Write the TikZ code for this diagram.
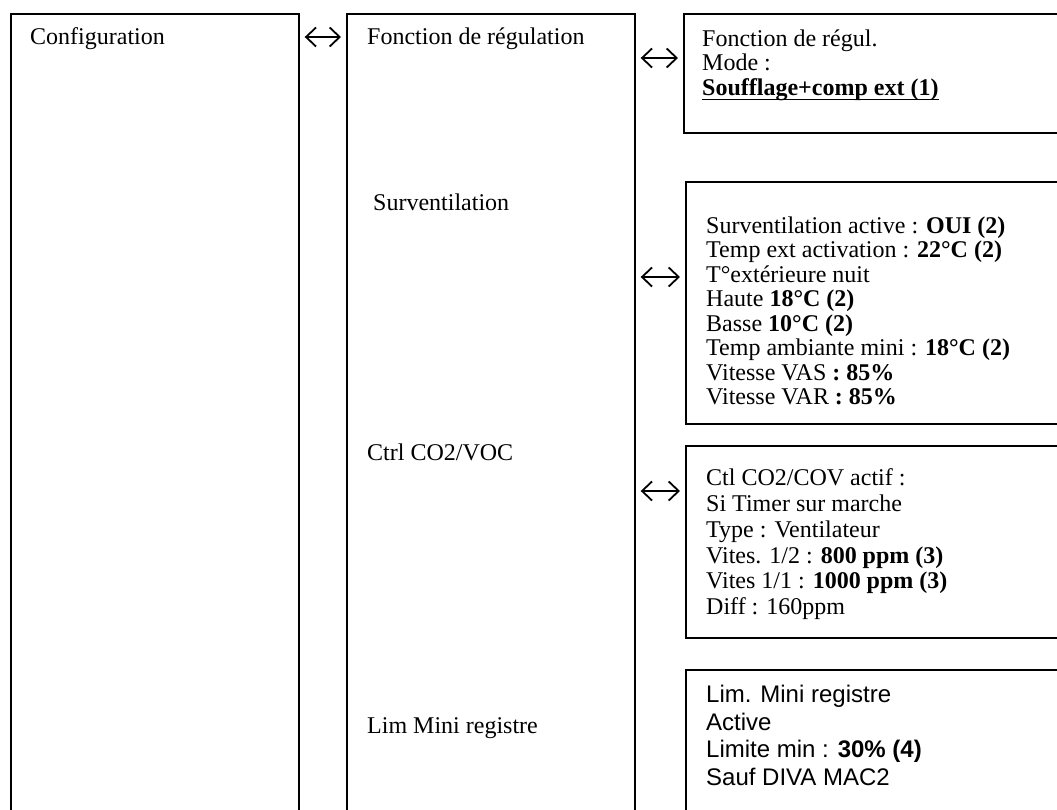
\documentclass[tikz,border=0pt]{standalone}
\usepackage{fontspec}
\setmainfont{Liberation Serif}
\newfontfamily\arialfont{Liberation Sans}
\usetikzlibrary{arrows.meta}
\newcommand\ulbox[1]{\setbox0\hbox{#1}\rlap{\rule[-4.5pt]{\wd0}{1.2pt}}\box0}
\begin{document}
\begin{tikzpicture}[x=1pt,y=-1pt,
  box/.style={draw, line width=1.7pt, anchor=north west, inner sep=0pt},
  lbl/.style={anchor=base west, inner sep=0pt, font=\fontsize{24}{24.6}\selectfont},
  txt/.style={anchor=north west, inner sep=0pt, align=left},
  link/.style={line width=1.8pt, shorten <=5pt, shorten >=5pt,
    {Straight Barb[length=10pt,width=19pt,line width=1.8pt]}-{Straight Barb[length=10pt,width=19pt,line width=1.8pt]}}]
\useasboundingbox (0,0) rectangle (1057,810);
\clip (0,0) rectangle (1057,810);
\fill[white] (0,0) rectangle (1057,810);

% boxes
\node[box, minimum width=288pt, minimum height=830pt] (conf) at (10,13) {};
\node[box, minimum width=288pt, minimum height=830pt] (func) at (346,13) {};
\node[box, minimum width=420pt, minimum height=119pt] (r1) at (683,13) {};
\node[box, minimum width=420pt, minimum height=242pt] (r2) at (685,181) {};
\node[box, minimum width=420pt, minimum height=192pt] (r3) at (685,445) {};
\node[box, minimum width=420pt, minimum height=220pt] (r4) at (685,669) {};

% left and middle labels
\node[lbl] (tconf) at (30,45) {Configuration};
\node[lbl] (tfunc) at (367,45) {Fonction de régulation};
\node[lbl] (tsurv) at (373,211) {Surventilation};
\node[lbl] (tco2) at (367,460) {Ctrl CO2/VOC};
\node[lbl] (tlim) at (367,733) {Lim Mini registre};

% right texts
\node[txt, font=\fontsize{24}{24.7}\selectfont] (t1) at (702,29.3)
  {Fonction de régul.\\Mode :\\\textbf{\ulbox{Soufflage+comp ext (1)}}};
\node[txt, font=\fontsize{24}{24.5}\selectfont] (t2) at (706,216.3)
  {Surventilation active : \textbf{OUI (2)}\\
   Temp ext activation : \textbf{22°C (2)}\\
   T°extérieure nuit\\
   Haute \textbf{18°C (2)}\\
   Basse \textbf{10°C (2)}\\
   Temp ambiante mini : \textbf{18°C (2)}\\
   Vitesse VAS \textbf{: 85\%}\\
   Vitesse VAR \textbf{: 85\%}};
\node[txt, font=\fontsize{24}{25.8}\selectfont] (t3) at (706,468.6)
  {Ctl CO2/COV actif :\\
   Si Timer sur marche\\
   Type : Ventilateur\\
   Vites. 1/2 : \textbf{800 ppm (3)}\\
   Vites 1/1 : \textbf{1000 ppm (3)}\\
   Diff : 160ppm};
\node[txt, font=\arialfont\fontsize{24}{27.7}\selectfont] (t4) at (706,684.8)
  {Lim. Mini registre\\
   Active\\
   Limite min : \textbf{30\% (4)}\\
   Sauf DIVA MAC2};

% connectors
\coordinate (a1s) at (conf.north east |- 0,37);
\coordinate (a1e) at (func.north west |- 0,37);
\coordinate (a2s) at (func.north east |- 0,58);
\coordinate (a2e) at (r1.north west |- 0,58);
\coordinate (a3s) at (func.north east |- 0,277);
\coordinate (a3e) at (r2.north west |- 0,277);
\coordinate (a4s) at (func.north east |- 0,491);
\coordinate (a4e) at (r3.north west |- 0,491);
\draw[link] (a1s) -- (a1e);
\draw[link] (a2s) -- (a2e);
\draw[link] (a3s) -- (a3e);
\draw[link] (a4s) -- (a4e);
\end{tikzpicture}
\end{document}
